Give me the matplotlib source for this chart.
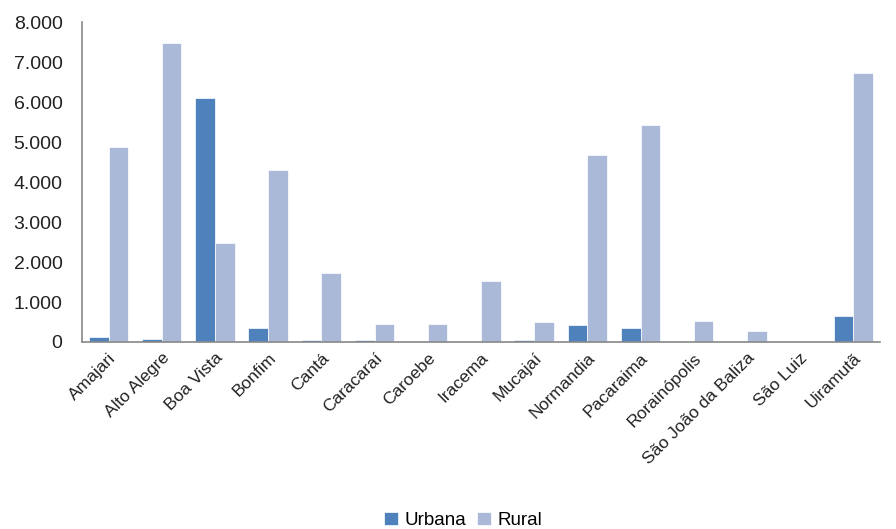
import matplotlib.pyplot as plt
import matplotlib.ticker as mticker
import numpy as np

municipios = ['Amajari', 'Alto Alegre', 'Boa Vista', 'Bonfim', 'Cantá', 'Caracaraí',
              'Caroebe', 'Iracema', 'Mucajaí', 'Normandia', 'Pacaraima', 'Rorainópolis',
              'São João da Baliza', 'São Luiz', 'Uiramutã']
urbana = [115, 85, 6100, 340, 40, 40, 0, 0, 40, 420, 340, 0, 0, 0, 645]
rural = [4880, 7475, 2475, 4300, 1725, 455, 455, 1525, 495, 4675, 5425, 530, 265, 0, 6725]

plt.rcParams['font.family'] = ['Liberation Sans', 'DejaVu Sans']

fig = plt.figure(figsize=(8.96, 5.29), dpi=100)
ax = fig.add_axes([0.0915, 0.3535, 0.8905, 0.6045])

x = np.arange(len(municipios))
w = 0.37
ax.bar(x - w / 2, urbana, w, color='#4F81BD', edgecolor='white', linewidth=0.5, label='Urbana')
ax.bar(x + w / 2, rural, w, color='#AAB9D7', edgecolor='white', linewidth=0.5, label='Rural')

ax.set_xlim(-0.5, len(municipios) - 0.5)
ax.set_ylim(0, 8000)
ax.yaxis.set_major_locator(mticker.MultipleLocator(1000))
ax.yaxis.set_major_formatter(mticker.FuncFormatter(lambda v, p: f'{int(v):,}'.replace(',', '.')))

ax.set_xticks(x)
ax.set_xticklabels(municipios, rotation=45, ha='right', rotation_mode='anchor')
ax.tick_params(axis='both', length=0, colors='#222222')
ax.tick_params(axis='x', pad=6, labelsize=12.5)
ax.tick_params(axis='y', pad=14, labelsize=14)

for s in ['top', 'right']:
    ax.spines[s].set_visible(False)
for s in ['left', 'bottom']:
    ax.spines[s].set_color('#888888')
    ax.spines[s].set_linewidth(1.2)

fig.legend(loc='lower center', bbox_to_anchor=(0.517, -0.032), ncol=2, frameon=False,
           fontsize=13.5, handlelength=0.75, handleheight=0.75, handletextpad=0.35,
           columnspacing=0.6)

fig.savefig('out.png', dpi=100)
